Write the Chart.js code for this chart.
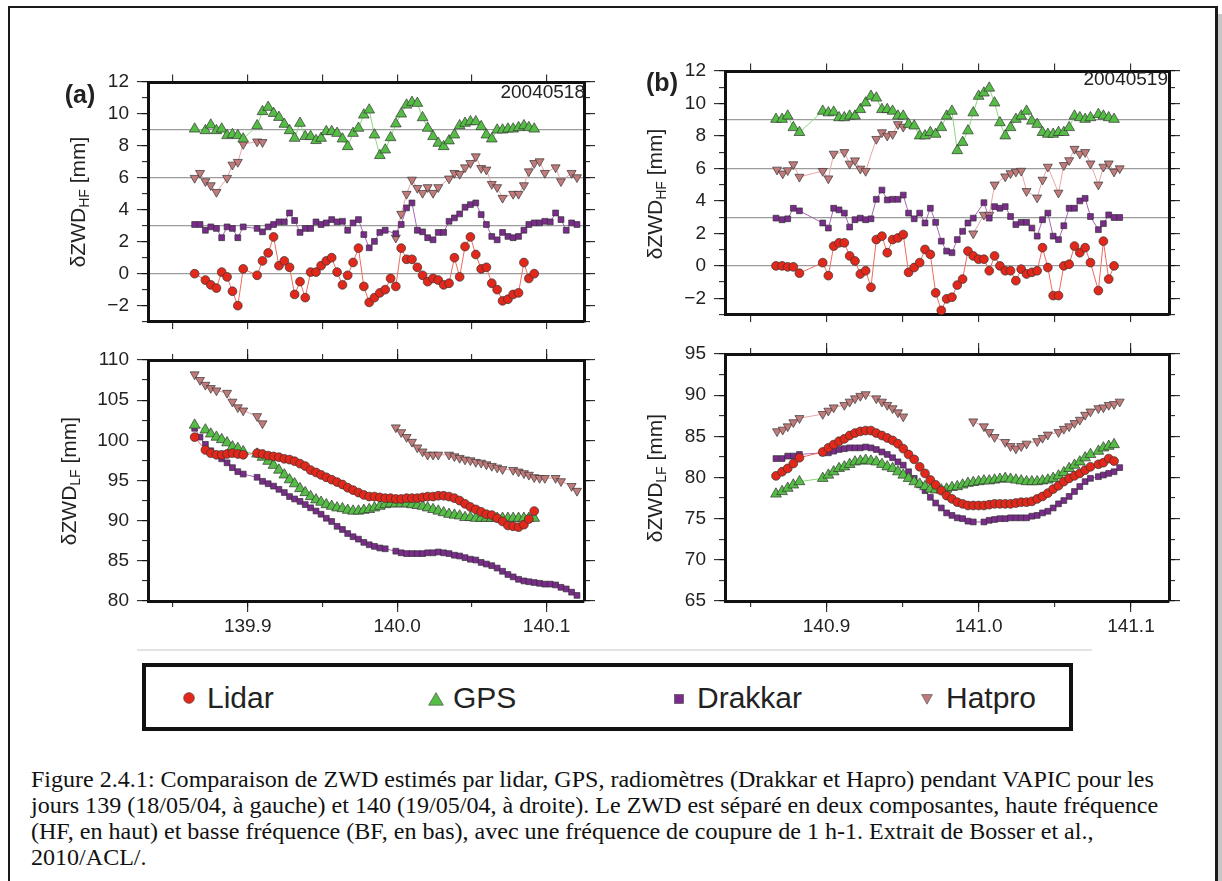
<!DOCTYPE html>
<html lang="fr">
<head>
<meta charset="utf-8">
<title>ZWD VAPIC</title>
<script src="https://cdn.jsdelivr.net/npm/chart.js"></script>
<style>
html, body { margin: 0; padding: 0; background: #fff; }
body { position: relative; width: 1222px; height: 881px; overflow: hidden;
       font-family: "Liberation Sans", Arial, sans-serif; color: #222; }
#page { position: absolute; left: 8px; top: 6px; width: 1210px; height: 900px; box-sizing: border-box;
        border-left: 2px solid #1a1a1a; border-top: 2px solid #1a1a1a; border-right: 3px solid #1a1a1a; }
#shade { position: absolute; left: 1218px; top: 14px; width: 4px; height: 867px; background: #c6c6c6; }
canvas { position: absolute; }
.ytitle { position: absolute; white-space: nowrap; font-size: 21px; line-height: 1;
          transform: translate(-50%, -50%) rotate(-90deg); }
.ytitle sub { font-size: 14px; vertical-align: -4px; line-height: 0; }
.plabel { position: absolute; font-weight: bold; font-size: 25px; line-height: 1; transform: translate(-50%, -50%); }
.date { position: absolute; font-size: 19px; line-height: 1; transform: translate(-100%, -50%); }
#sep { position: absolute; left: 137px; top: 649px; width: 955px; height: 2px; background: #e3e3e3; }
#legend { position: absolute; left: 142px; top: 663px; width: 931px; height: 68px; box-sizing: border-box;
          border: 4.5px solid #111; }
.lgtext { position: absolute; font-size: 30px; line-height: 30px; top: 683px; color: #222; }
.lgmark { position: absolute; }
#caption { position: absolute; left: 31px; top: 766px; font-family: "Liberation Serif", "Times New Roman", serif;
           font-size: 20px; line-height: 26px; color: #111; white-space: nowrap; }
</style>
</head>
<body>
<div id="page"></div>
<div id="shade"></div>

<canvas id="aHF"></canvas>
<canvas id="aLF"></canvas>
<canvas id="bHF"></canvas>
<canvas id="bLF"></canvas>

<div class="plabel" style="left:80px; top:94px;">(a)</div>
<div class="plabel" style="left:662px; top:82px;">(b)</div>
<div class="date" style="left:585px; top:91px;">20040518</div>
<div class="date" style="left:1168px; top:78px;">20040519</div>

<div class="ytitle" style="left:77px; top:202px;">δZWD<sub>HF</sub> [mm]</div>
<div class="ytitle" style="left:68px; top:481px;">δZWD<sub>LF</sub> [mm]</div>
<div class="ytitle" style="left:654px; top:194px;">δZWD<sub>HF</sub> [mm]</div>
<div class="ytitle" style="left:654px; top:478px;">δZWD<sub>LF</sub> [mm]</div>

<div id="sep"></div>
<div id="legend"></div>
<svg class="lgmark" style="left:183px; top:692px;" width="12" height="12"><circle cx="6" cy="6" r="5.4" fill="#e2281b" stroke="#444" stroke-width="0.6"/></svg>
<span class="lgtext" style="left:207px;">Lidar</span>
<svg class="lgmark" style="left:428px; top:692px;" width="16" height="14"><polygon points="8,0.6 15.4,13.2 0.6,13.2" fill="#55bd45" stroke="#444" stroke-width="0.6"/></svg>
<span class="lgtext" style="left:453px;">GPS</span>
<svg class="lgmark" style="left:674px; top:694px;" width="10" height="10"><rect x="0.5" y="0.5" width="9" height="9" fill="#7b2b8c" stroke="#444" stroke-width="0.6"/></svg>
<span class="lgtext" style="left:697px;">Drakkar</span>
<svg class="lgmark" style="left:921px; top:694px;" width="12" height="11"><polygon points="0.6,0.6 11.4,0.6 6,10.2" fill="#c27b7b" stroke="#444" stroke-width="0.6"/></svg>
<span class="lgtext" style="left:946px;">Hatpro</span>

<div id="caption"></div>

<script>
// ---------- day 139 (18/05/04), panel (a) ----------
const tA = [139.8645, 139.8717, 139.8753, 139.8791, 139.8826, 139.8862, 139.8898, 139.8934, 139.8970, 139.9063,
  139.9099, 139.9137, 139.9173, 139.9209, 139.9245, 139.9280, 139.9314, 139.9350, 139.9385, 139.9421,
  139.9457, 139.9491, 139.9526, 139.9562, 139.9598, 139.9634, 139.9669, 139.9705, 139.9741, 139.9777,
  139.9813, 139.9848, 139.9884, 139.9920, 139.9956, 139.9991, 140.0027, 140.0063, 140.0099, 140.0135,
  140.0170, 140.0204, 140.0240, 140.0275, 140.0311, 140.0347, 140.0383, 140.0418, 140.0454, 140.0490,
  140.0526, 140.0562, 140.0597, 140.0633, 140.0669, 140.0705, 140.0741, 140.0776, 140.0812, 140.0848,
  140.0881, 140.0917];
const lidarA_HF = [0.0, -0.4, -0.7, -0.9, 0.1, -0.2, -1.1, -2.0, 0.3, -0.1,
  0.8, 1.3, 2.3, 0.5, 0.8, 0.4, -1.3, -0.5, -1.5, 0.1,
  0.1, 0.5, 0.8, 1.0, 0.1, -0.7, -0.1, 0.7, 1.6, -0.8,
  -1.8, -1.5, -1.2, -1.0, -0.3, -0.8, 1.6, 0.9, 0.9, 0.4,
  -0.1, -0.5, -0.3, -0.4, -0.7, -0.6, 1.0, -0.2, 1.7, 2.3,
  1.2, 0.3, 0.4, -0.6, -1.0, -1.7, -1.6, -1.3, -1.2, 0.7,
  -0.3, 0.0];
const gpsA_HF = [9.06, 8.96, 9.31, 8.96, 9.06, 8.65, 8.71, 8.65, 8.44, 9.27,
  10.15, 10.42, 10.04, 9.79, 9.36, 8.96, 8.48, 9.42, 8.59, 8.59,
  8.34, 8.48, 8.90, 8.90, 8.79, 8.44, 7.96, 8.79, 9.11, 9.94,
  10.25, 8.69, 7.40, 7.75, 8.52, 9.38, 10.00, 10.56, 10.73, 10.67,
  9.77, 9.11, 8.59, 8.17, 7.96, 8.32, 8.69, 9.27, 9.42, 9.52,
  9.52, 9.21, 8.69, 8.44, 9.00, 9.00, 9.06, 9.06, 9.15, 9.27,
  9.15, 9.06];
const lidarA_LF = [100.4, 98.8, 98.4, 98.2, 98.2, 98.3, 98.4, 98.3, 98.2, 98.4,
  98.3, 98.1, 98.0, 97.9, 97.7, 97.6, 97.4, 97.1, 96.8, 96.3,
  96.0, 95.7, 95.4, 95.1, 94.8, 94.5, 94.1, 93.8, 93.5, 93.2,
  93.0, 93.0, 92.9, 92.8, 92.8, 92.7, 92.7, 92.8, 92.8, 92.8,
  92.9, 93.0, 93.0, 93.1, 93.1, 93.0, 92.8, 92.5, 92.1, 91.7,
  91.4, 91.1, 90.8, 90.7, 90.3, 89.9, 89.4, 89.3, 89.2, 89.5,
  90.2, 91.2];
const gpsA_LF = [101.9, 101.3, 100.8, 100.4, 100.1, 99.7, 99.2, 99.0, 98.6, 98.3,
  97.9, 97.4, 96.9, 96.3, 95.7, 95.1, 94.6, 94.0, 93.5, 93.0,
  92.6, 92.3, 92.0, 91.8, 91.6, 91.5, 91.3, 91.2, 91.2, 91.3,
  91.4, 91.6, 91.8, 92.0, 92.1, 92.1, 92.1, 92.1, 92.0, 91.9,
  91.8, 91.6, 91.4, 91.2, 91.0, 90.8, 90.7, 90.6, 90.4, 90.4,
  90.3, 90.3, 90.3, 90.3, 90.3, 90.3, 90.3, 90.3, 90.3, 90.3,
  90.3, 90.3];
const tA_drakkar = [139.8645, 139.8681, 139.8717, 139.8753, 139.8791, 139.8826, 139.8862, 139.8898, 139.8934, 139.8970,
  139.9063, 139.9099, 139.9137, 139.9173, 139.9209, 139.9245, 139.9280, 139.9314, 139.9350, 139.9385,
  139.9421, 139.9457, 139.9491, 139.9526, 139.9562, 139.9598, 139.9634, 139.9669, 139.9705, 139.9741,
  139.9777, 139.9813, 139.9848, 139.9884, 139.9920, 139.9991, 140.0027, 140.0063, 140.0099, 140.0135,
  140.0170, 140.0204, 140.0240, 140.0275, 140.0311, 140.0347, 140.0383, 140.0418, 140.0454, 140.0490,
  140.0526, 140.0562, 140.0597, 140.0633, 140.0669, 140.0705, 140.0741, 140.0776, 140.0812, 140.0848,
  140.0881, 140.0917, 140.0953, 140.0988, 140.1024, 140.1060, 140.1096, 140.1131, 140.1167, 140.1203];
const drakkarA_HF = [3.08, 3.08, 2.72, 2.93, 2.83, 2.25, 2.93, 2.83, 2.25, 2.93,
  2.83, 2.62, 2.93, 3.08, 3.24, 3.24, 3.80, 3.33, 2.58, 2.83,
  2.83, 3.24, 3.08, 3.18, 3.39, 3.24, 3.28, 2.72, 3.18, 3.39,
  2.45, 1.62, 2.02, 2.58, 2.72, 2.50, 3.08, 4.12, 4.43, 2.72,
  2.62, 2.25, 2.12, 2.58, 2.58, 3.28, 3.49, 3.74, 4.16, 4.32,
  4.43, 3.70, 3.08, 2.33, 2.12, 2.58, 2.33, 2.25, 2.33, 2.72,
  3.08, 3.18, 3.18, 3.28, 3.24, 3.80, 3.39, 2.72, 3.18, 3.08];
const drakkarA_LF = [101.5, 100.4, 99.5, 98.7, 98.2, 97.7, 97.2, 96.6, 96.1, 95.8,
  95.4, 94.9, 94.6, 94.3, 93.9, 93.5, 93.0, 92.7, 92.4, 92.0,
  91.6, 91.2, 90.8, 90.3, 89.9, 89.3, 88.9, 88.4, 88.0, 87.7,
  87.3, 87.0, 86.8, 86.6, 86.5, 86.2, 86.0, 85.9, 85.9, 85.9,
  85.9, 86.0, 86.0, 86.1, 86.0, 85.9, 85.7, 85.6, 85.4, 85.2,
  85.1, 84.8, 84.6, 84.4, 84.1, 83.7, 83.3, 83.0, 82.7, 82.5,
  82.4, 82.3, 82.2, 82.1, 82.1, 82.0, 81.7, 81.5, 81.1, 80.7];
const tA_hatpro = [139.8645, 139.8681, 139.8717, 139.8753, 139.8791, 139.8862, 139.8898, 139.8934, 139.8970, 139.9063, 139.9099,
  139.9991, 140.0027, 140.0063, 140.0099, 140.0135, 140.0170, 140.0204, 140.0240, 140.0275, 140.0347,
  140.0383, 140.0418, 140.0454, 140.0490, 140.0526, 140.0562, 140.0597, 140.0633, 140.0669, 140.0705,
  140.0776, 140.0812, 140.0848, 140.0881, 140.0917, 140.0953, 140.0988, 140.1060, 140.1096, 140.1167,
  140.1203];
const hatproA_HF = [5.99, 6.30, 5.78, 5.53, 5.11, 5.99, 6.82, 6.99, 8.11, 8.27, 8.23,
  2.25, 3.74, 4.99, 5.88, 5.36, 5.05, 5.41, 5.05, 5.41, 5.95,
  6.30, 6.24, 6.65, 6.92, 7.34, 6.61, 6.51, 5.61, 5.41, 4.74,
  4.99, 4.99, 5.53, 6.40, 6.92, 7.03, 6.30, 6.65, 5.78, 6.30,
  6.03];
const hatproA_LF = [108.2, 107.5, 106.9, 106.5, 106.2, 105.9, 104.8, 104.1, 103.7, 103.0, 102.1,
  101.6, 101.0, 100.4, 99.8, 99.1, 98.6, 98.2, 98.2, 98.2, 98.2,
  98.0, 97.8, 97.6, 97.5, 97.3, 97.2, 97.0, 96.8, 96.6, 96.4,
  96.3, 96.1, 95.9, 95.7, 95.4, 95.3, 95.3, 95.3, 94.9, 94.3,
  93.7];

// ---------- day 140 (19/05/04), panel (b) ----------
const tB = [140.8668, 140.8708, 140.8745, 140.8782, 140.8822, 140.8975, 140.9012, 140.9047, 140.9082, 140.9117,
  140.9152, 140.9187, 140.9222, 140.9257, 140.9292, 140.9327, 140.9364, 140.9399, 140.9434, 140.9469,
  140.9504, 140.9539, 140.9576, 140.9612, 140.9647, 140.9682, 140.9717, 140.9754, 140.9789, 140.9824,
  140.9859, 140.9894, 140.9929, 140.9964, 140.9999, 141.0034, 141.0069, 141.0104, 141.0139, 141.0174,
  141.0209, 141.0244, 141.0279, 141.0314, 141.0349, 141.0384, 141.0419, 141.0454, 141.0489, 141.0524,
  141.0559, 141.0594, 141.0629, 141.0664, 141.0699, 141.0734, 141.0786, 141.0819, 141.0854, 141.0889];
const lidarB_HF = [0.0, 0.0, -0.06, -0.06, -0.45, 0.2, -0.6, 1.22, 1.42, 1.42,
  0.61, 0.3, -0.5, -0.3, -1.32, 1.62, 1.83, 0.81, 1.62, 1.72,
  1.93, -0.4, -0.1, 0.2, 1.01, 0.71, -1.66, -2.74, -2.03, -1.93,
  -1.18, -0.81, 0.91, 0.61, 0.41, 0.41, -0.3, 0.61, 0.0, -0.3,
  -0.3, -0.91, -0.2, -0.5, -0.4, -0.3, 1.12, -0.1, -1.83, -1.83,
  0.0, 0.1, 1.22, 0.81, 1.12, 0.2, -1.52, 1.52, -0.81, 0.0];
const gpsB_HF = [9.03, 9.03, 9.23, 8.52, 8.22, 9.53, 9.43, 9.47, 9.13, 9.13,
  9.23, 9.23, 9.63, 10.04, 10.45, 10.34, 9.63, 9.63, 9.53, 9.23,
  9.23, 8.72, 8.62, 8.01, 8.01, 8.22, 8.11, 8.52, 9.23, 9.53,
  7.10, 7.61, 8.32, 9.43, 10.45, 10.65, 10.95, 10.04, 8.82, 8.01,
  8.52, 9.03, 9.23, 9.53, 8.92, 8.72, 8.22, 8.11, 8.11, 8.22,
  8.22, 8.52, 9.23, 9.13, 9.03, 9.13, 9.33, 9.23, 9.13, 9.03];
const lidarB_LF = [80.2, 80.7, 81.1, 81.7, 82.4, 83.1, 83.6, 84.0, 84.4, 84.7,
  85.1, 85.4, 85.6, 85.7, 85.7, 85.4, 85.1, 84.8, 84.5, 84.1,
  83.5, 82.8, 82.2, 81.3, 80.5, 79.7, 79.1, 78.4, 77.8, 77.4,
  77.0, 76.8, 76.6, 76.6, 76.6, 76.6, 76.7, 76.8, 76.8, 76.8,
  76.8, 76.9, 77.0, 77.0, 77.1, 77.4, 77.7, 78.1, 78.6, 79.0,
  79.5, 79.9, 80.2, 80.5, 80.9, 81.3, 81.6, 81.8, 82.3, 82.0];
const gpsB_LF = [78.0, 78.3, 78.7, 79.1, 79.5, 79.9, 80.3, 80.7, 81.1, 81.3,
  81.6, 81.9, 82.0, 82.1, 82.0, 81.9, 81.6, 81.3, 81.1, 80.7,
  80.3, 79.9, 79.5, 79.2, 78.9, 78.6, 78.5, 78.5, 78.6, 78.8,
  78.9, 79.1, 79.3, 79.4, 79.5, 79.6, 79.6, 79.7, 79.8, 79.9,
  79.8, 79.7, 79.6, 79.5, 79.5, 79.5, 79.6, 79.7, 79.9, 80.2,
  80.6, 81.1, 81.5, 81.9, 82.4, 82.8, 83.2, 83.6, 83.8, 84.0];
const tB_drakkar = [140.8668, 140.8708, 140.8745, 140.8782, 140.8822, 140.8975, 140.9012, 140.9047, 140.9082, 140.9117,
  140.9152, 140.9187, 140.9222, 140.9257, 140.9292, 140.9327, 140.9364, 140.9399, 140.9434, 140.9469,
  140.9504, 140.9539, 140.9576, 140.9612, 140.9647, 140.9682, 140.9717, 140.9754, 140.9789, 140.9824,
  140.9859, 140.9894, 140.9929, 140.9964, 141.0034, 141.0069, 141.0104, 141.0139, 141.0174, 141.0209,
  141.0244, 141.0279, 141.0314, 141.0349, 141.0384, 141.0419, 141.0454, 141.0489, 141.0524, 141.0559,
  141.0594, 141.0629, 141.0664, 141.0699, 141.0734, 141.0786, 141.0819, 141.0854, 141.0889, 141.0926];
const drakkarB_HF = [2.94, 2.84, 2.90, 3.55, 3.39, 2.64, 2.33, 3.55, 3.45, 3.25,
  2.39, 2.84, 2.94, 2.84, 2.90, 4.10, 4.67, 4.06, 4.10, 4.10,
  4.36, 3.25, 2.90, 3.25, 2.64, 3.55, 2.68, 1.52, 0.91, 0.81,
  1.62, 2.13, 2.64, 2.94, 3.89, 2.94, 3.65, 3.55, 3.65, 3.04,
  2.54, 2.68, 2.68, 2.33, 1.83, 2.84, 3.25, 1.83, 1.62, 2.47,
  3.55, 3.55, 4.00, 4.16, 3.04, 2.23, 2.60, 3.14, 2.98, 2.98];
const drakkarB_LF = [82.3, 82.3, 82.6, 82.6, 82.8, 83.0, 83.0, 83.2, 83.4, 83.5,
  83.6, 83.6, 83.6, 83.7, 83.6, 83.4, 83.1, 82.8, 82.4, 81.9,
  81.5, 80.7, 79.9, 79.1, 78.4, 77.6, 76.9, 76.3, 75.7, 75.4,
  75.1, 75.0, 74.7, 74.6, 74.6, 74.8, 74.9, 75.0, 75.0, 75.1,
  75.1, 75.1, 75.1, 75.3, 75.4, 75.7, 75.9, 76.3, 76.8, 77.2,
  77.7, 78.3, 78.9, 79.5, 79.9, 80.1, 80.3, 80.5, 80.7, 81.2];
const tB_hatpro = [140.8675, 140.8712, 140.8745, 140.8782, 140.8822, 140.8975, 140.9012, 140.9047, 140.9117, 140.9152,
  140.9187, 140.9222, 140.9257, 140.9327, 140.9364, 140.9399, 140.9434, 140.9469, 140.9504,
  140.9964, 141.0034, 141.0069, 141.0104, 141.0174, 141.0209, 141.0244, 141.0279, 141.0314, 141.0384,
  141.0419, 141.0454, 141.0524, 141.0559, 141.0594, 141.0629, 141.0664, 141.0699, 141.0734, 141.0786,
  141.0819, 141.0854, 141.0889, 141.0926];
const hatproB_HF = [5.92, 5.68, 5.88, 6.25, 5.48, 5.84, 5.38, 6.90, 7.00, 6.29,
  6.49, 5.98, 5.84, 7.81, 8.22, 8.01, 8.11, 8.72, 8.56,
  1.99, 3.14, 3.14, 5.0, 5.5, 5.7, 5.8, 5.85, 4.6, 4.2,
  5.3, 6.1, 4.5, 6.2, 6.5, 7.2, 6.9, 7.0, 6.3, 5.0,
  6.1, 6.3, 5.8, 6.0];
const hatproB_LF = [85.6, 85.8, 86.2, 86.7, 87.2, 87.7, 88.1, 88.5, 88.8, 89.2,
  89.6, 89.9, 90.1, 89.6, 89.2, 88.8, 88.4, 87.9, 87.4,
  86.8, 86.2, 85.5, 84.9, 84.3, 83.8, 83.5, 83.8, 84.1, 84.4,
  84.8, 85.2, 85.5, 85.9, 86.2, 86.6, 87.0, 87.6, 88.0, 88.4,
  88.5, 88.8, 88.9, 89.2];

const captionLines = [
  "Figure 2.4.1: Comparaison de ZWD estimés par lidar, GPS, radiomètres (Drakkar et Hapro) pendant VAPIC pour les",
  "jours 139 (18/05/04, à gauche) et 140 (19/05/04, à droite). Le ZWD est séparé en deux composantes, haute fréquence",
  "(HF, en haut) et basse fréquence (BF, en bas), avec une fréquence de coupure de 1 h-1. Extrait de Bosser et al.,",
  "2010/ACL/."
];

const FONT = '"Liberation Sans", Arial, sans-serif';
const STYLE = {
  Lidar:   { pointStyle: 'circle',   r: 4.4, fill: '#e2281b', line: '#ee6b60', rot: 0 },
  GPS:     { pointStyle: 'triangle', r: 6.2, fill: '#55bd45', line: '#8ad87c', rot: 0 },
  Drakkar: { pointStyle: 'rect',     r: 4.1, fill: '#7b2b8c', line: '#a965b5', rot: 0 },
  Hatpro:  { pointStyle: 'triangle', r: 5.2, fill: '#c27b7b', line: '#e6a6a6', rot: 180 }
};

function makeDataset(name, xs, ys) {
  const s = STYLE[name];
  return {
    label: name,
    data: xs.map((x, i) => ({ x: x, y: ys[i] })),
    showLine: true,
    spanGaps: 0.02,          // break the line over the long data gaps
    borderColor: s.line,
    borderWidth: 1,
    pointStyle: s.pointStyle,
    pointRadius: s.r,
    pointRotation: s.rot,
    pointBackgroundColor: s.fill,
    pointBorderColor: '#333',
    pointBorderWidth: 0.7,
    clip: 12
  };
}

const yLabel = v => (v < 0 ? '\u2212' + Math.abs(v) : String(v));
const xLabel = v => (Math.abs(v * 10 - Math.round(v * 10)) < 1e-6 ? v.toFixed(1) : '');

function scale(position, min, max, step, tickLen, size, weight, extra) {
  extra = extra || {};
  return {
    type: 'linear', position: position, min: min, max: max, weight: weight,
    afterFit: s => { if (s.isHorizontal()) s.height = size; else s.width = size; },
    ticks: {
      stepSize: step, includeBounds: false, autoSkip: false, maxRotation: 0, minRotation: 0,
      display: !!extra.labels, callback: extra.labels || (() => ''),
      font: { family: FONT, size: 19 }, color: '#222', padding: extra.pad || 0
    },
    grid: {
      display: true, drawTicks: true, tickLength: tickLen, tickColor: '#111', tickWidth: 1,
      drawOnChartArea: !!extra.gridColor, color: extra.gridColor || 'rgba(0,0,0,0)', lineWidth: 1.3
    },
    border: { display: !!extra.border, width: 3, color: '#111' }
  };
}

function makePanel(id, box, xRange, yCfg, datasets, xLabels) {
  const canvas = document.getElementById(id);
  const bottomSize = xLabels ? 36 : 12;
  const W = box.r - box.l + 92;
  const H = box.b - box.t + 26 + 6 + bottomSize;
  canvas.width = W; canvas.height = H;
  canvas.style.left = (box.l - 70) + 'px';
  canvas.style.top = (box.t - 26) + 'px';
  canvas.style.width = W + 'px';
  canvas.style.height = H + 'px';

  const x0 = xRange[0], x1 = xRange[1];
  const scales = {};
  if (xLabels) {
    scales.x   = scale('bottom', x0, x1, 0.1, 11, bottomSize, 1, { labels: xLabel, pad: 3, border: true });
    scales.xm  = scale('bottom', x0, x1, 0.05, 6, 0, 0);
    scales.xt  = scale('top', x0, x1, 0.1, 11, 12, 1, { border: true });
    scales.xtm = scale('top', x0, x1, 0.05, 6, 0, 0);
  } else {
    scales.x  = scale('bottom', x0, x1, 0.05, 7.5, 12, 1, { border: true });
    scales.xt = scale('top', x0, x1, 0.05, 7.5, 12, 1, { border: true });
  }
  scales.y   = scale('left', yCfg.min, yCfg.max, yCfg.major, 11, 60, 1, { labels: yLabel, pad: 8, border: true });
  scales.ym  = scale('left', yCfg.min, yCfg.max, yCfg.minor, 6, 0, 0, { gridColor: yCfg.grid });
  scales.yr  = scale('right', yCfg.min, yCfg.max, yCfg.major, 11, 12, 1, { border: true });
  scales.yrm = scale('right', yCfg.min, yCfg.max, yCfg.minor, 6, 0, 0);

  new Chart(canvas, {
    type: 'scatter',
    data: { datasets: datasets },
    options: {
      responsive: false,
      animation: false,
      events: [],
      layout: { padding: { left: 10, right: 10, top: 14, bottom: 6 } },
      plugins: { legend: { display: false }, tooltip: { enabled: false } },
      scales: scales
    }
  });
}

const hfGrid = ctx => ([0, 3, 6, 9].indexOf(ctx.tick.value) >= 0 ? '#9c9c9c' : 'rgba(0,0,0,0)');
const hfAxis = { min: -3, max: 12, major: 2, minor: 1, grid: hfGrid };

makePanel('aHF', { l: 148, r: 584, t: 82, b: 323 }, [139.8333, 140.125], hfAxis, [
  makeDataset('Lidar', tA, lidarA_HF),
  makeDataset('GPS', tA, gpsA_HF),
  makeDataset('Drakkar', tA_drakkar, drakkarA_HF),
  makeDataset('Hatpro', tA_hatpro, hatproA_HF)
], false);

makePanel('aLF', { l: 148, r: 584, t: 360, b: 601 }, [139.8333, 140.125],
  { min: 80, max: 110, major: 5, minor: 2.5 }, [
  makeDataset('Lidar', tA, lidarA_LF),
  makeDataset('GPS', tA, gpsA_LF),
  makeDataset('Drakkar', tA_drakkar, drakkarA_LF),
  makeDataset('Hatpro', tA_hatpro, hatproA_LF)
], true);

makePanel('bHF', { l: 725, r: 1169, t: 71, b: 316 }, [140.8333, 141.125], hfAxis, [
  makeDataset('Lidar', tB, lidarB_HF),
  makeDataset('GPS', tB, gpsB_HF),
  makeDataset('Drakkar', tB_drakkar, drakkarB_HF),
  makeDataset('Hatpro', tB_hatpro, hatproB_HF)
], false);

makePanel('bLF', { l: 725, r: 1169, t: 354, b: 601 }, [140.8333, 141.125],
  { min: 65, max: 95, major: 5, minor: 2.5 }, [
  makeDataset('Lidar', tB, lidarB_LF),
  makeDataset('GPS', tB, gpsB_LF),
  makeDataset('Drakkar', tB_drakkar, drakkarB_LF),
  makeDataset('Hatpro', tB_hatpro, hatproB_LF)
], true);

// caption, sized so that the first line spans the same width as in the figure
const cap = document.getElementById('caption');
captionLines.forEach(t => {
  const d = document.createElement('div');
  d.textContent = t;
  cap.appendChild(d);
});
const mctx = document.createElement('canvas').getContext('2d');
mctx.font = '20px "Liberation Serif"';
const w1 = mctx.measureText(captionLines[0]).width;
if (w1 > 0) cap.style.fontSize = (20 * 1124 / w1).toFixed(2) + 'px';
</script>
</body>
</html>
